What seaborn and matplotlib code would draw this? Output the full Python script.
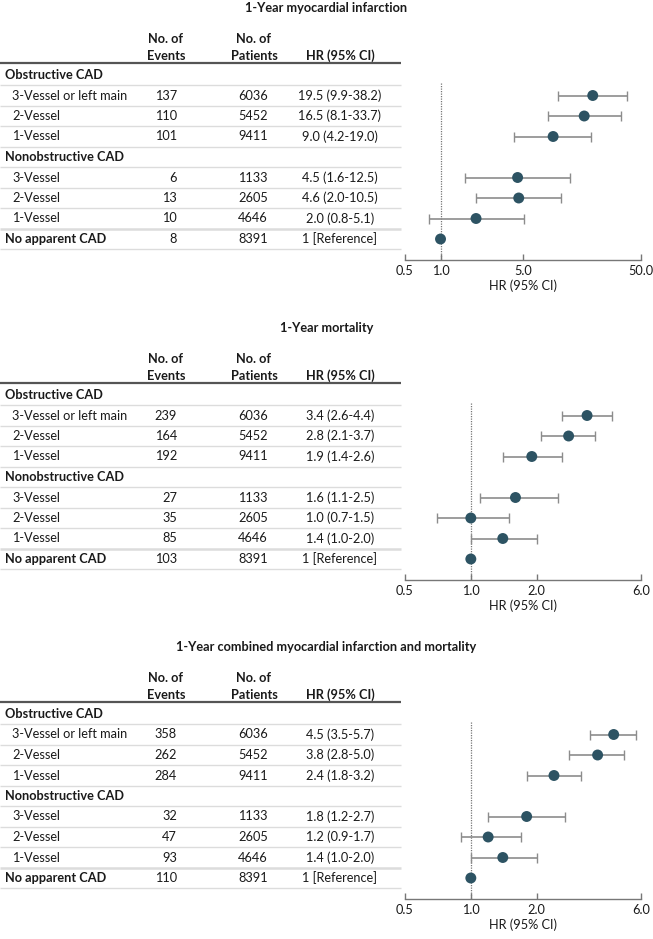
import numpy as np
import pandas as pd
import matplotlib
matplotlib.use("Agg")
import matplotlib.pyplot as plt
import seaborn as sns

sns.set_theme(style="white")
plt.rcParams['font.family'] = ['Lato', 'DejaVu Sans']

# ---- data ----
row_labels = ["Obstructive CAD", "3-Vessel or left main", "2-Vessel", "1-Vessel",
              "Nonobstructive CAD", "3-Vessel", "2-Vessel", "1-Vessel", "No apparent CAD"]
row_is_group = [True, False, False, False, True, False, False, False, True]
data_rows = [1, 2, 3, 5, 6, 7, 8]   # rows that carry numbers

patients = [6036, 5452, 9411, 1133, 2605, 4646, 8391]

mi_events = [137, 110, 101, 6, 13, 10, 8]
mi_hr = [19.5, 16.5, 9.0, 4.5, 4.6, 2.0, 1.0]
mi_lo = [9.9, 8.1, 4.2, 1.6, 2.0, 0.8, 1.0]
mi_hi = [38.2, 33.7, 19.0, 12.5, 10.5, 5.1, 1.0]

mort_events = [239, 164, 192, 27, 35, 85, 103]
mort_hr = [3.4, 2.8, 1.9, 1.6, 1.0, 1.4, 1.0]
mort_lo = [2.6, 2.1, 1.4, 1.1, 0.7, 1.0, 1.0]
mort_hi = [4.4, 3.7, 2.6, 2.5, 1.5, 2.0, 1.0]

comb_events = [358, 262, 284, 32, 47, 93, 110]
comb_hr = [4.5, 3.8, 2.4, 1.8, 1.2, 1.4, 1.0]
comb_lo = [3.5, 2.8, 1.8, 1.2, 0.9, 1.0, 1.0]
comb_hi = [5.7, 5.0, 3.2, 2.7, 1.7, 2.0, 1.0]

titles = ["1-Year myocardial infarction", "1-Year mortality",
          "1-Year combined myocardial infarction and mortality"]
xticks_list = [[0.5, 1.0, 5.0, 50.0], [0.5, 1.0, 2.0, 6.0], [0.5, 1.0, 2.0, 6.0]]

panels = [
    (mi_events, mi_hr, mi_lo, mi_hi),
    (mort_events, mort_hr, mort_lo, mort_hi),
    (comb_events, comb_hr, comb_lo, comb_hi),
]

# ---- layout (pixels) ----
W, H = 653, 939
fig = plt.figure(figsize=(W / 100, H / 100), dpi=100)
bg = fig.add_axes([0, 0, 1, 1])
bg.set_xlim(0, W)
bg.set_ylim(H, 0)
bg.axis("off")

dot_color = "#2d5363"
ci_color = "#8c8c8c"
txt = "#1a1a1a"
fs = 9.2
offsets = [0, 320, 639]
row0 = 75
step = 20.5

for p, (events, hr, lo, hi) in enumerate(panels):
    o = offsets[p]
    ry = lambda r: o + row0 + r * step

    bg.text(W / 2, o + 8, titles[p], ha="center", va="center", fontsize=fs,
            fontweight="bold", color=txt)
    bg.text(166, o + 39, "No. of", ha="center", va="center", fontsize=fs, fontweight="bold", color=txt)
    bg.text(166, o + 56, "Events", ha="center", va="center", fontsize=fs, fontweight="bold", color=txt)
    bg.text(254, o + 39, "No. of", ha="center", va="center", fontsize=fs, fontweight="bold", color=txt)
    bg.text(254, o + 56, "Patients", ha="center", va="center", fontsize=fs, fontweight="bold", color=txt)
    bg.text(340, o + 56, "HR (95% CI)", ha="center", va="center", fontsize=fs, fontweight="bold", color=txt)
    bg.plot([0, 401], [o + 62.5, o + 62.5], color="#555555", lw=1.6, solid_capstyle="butt")

    for r, (lab, grp) in enumerate(zip(row_labels, row_is_group)):
        bg.text(5 if grp else 12, ry(r), lab, ha="left", va="center", fontsize=fs,
                fontweight="bold" if grp else "normal", color=txt)
        lw = 1.8 if r == 7 else 1.0
        bg.plot([0, 401], [ry(r + 0.5), ry(r + 0.5)], color="#dcdcdc", lw=lw, solid_capstyle="butt")

    for k, r in enumerate(data_rows):
        bg.text(177, ry(r), str(events[k]), ha="right", va="center", fontsize=fs, color=txt)
        bg.text(268, ry(r), str(patients[k]), ha="right", va="center", fontsize=fs, color=txt)
        if r == 8:
            s = "1 [Reference]"
        else:
            s = f"{hr[k]:.1f} ({lo[k]:.1f}-{hi[k]:.1f})"
        bg.text(340, ry(r), s, ha="center", va="center", fontsize=fs, color=txt)

    # forest axes
    top_px = ry(-0.5)
    bot_px = ry(9)
    ax = fig.add_axes([405 / W, 1 - bot_px / H, (641 - 405) / W, (bot_px - top_px) / H])
    ax.patch.set_alpha(0)
    df = pd.DataFrame({"row": data_rows, "hr": hr, "lo": lo, "hi": hi})
    ci = df[df["row"] != 8]
    ax.errorbar(ci["hr"], ci["row"],
                xerr=[ci["hr"] - ci["lo"], ci["hi"] - ci["hr"]],
                fmt="none", ecolor=ci_color, elinewidth=1.2, capsize=3.5, capthick=1.0, zorder=2)
    ax.plot([1, 1], [0.4, 9], color="#777777", lw=0.9, ls=(0, (1, 1)), zorder=1)
    sns.scatterplot(data=df, x="hr", y="row", ax=ax, color=dot_color, s=62,
                    edgecolor="none", zorder=3, legend=False)
    ticks = xticks_list[p]
    ax.set_xscale("log")
    ax.set_xlim(ticks[0], ticks[-1])
    ax.set_ylim(9, -0.5)
    ax.set_xticks(ticks)
    ax.set_xticklabels([f"{t:.1f}" for t in ticks])
    ax.minorticks_off()
    ax.set_yticks([])
    ax.set_ylabel("")
    ax.set_xlabel("HR (95% CI)", fontsize=fs, color=txt, labelpad=2)
    for side in ["top", "right", "left"]:
        ax.spines[side].set_visible(False)
    ax.spines["bottom"].set_color("#777777")
    ax.spines["bottom"].set_linewidth(1.0)
    ax.tick_params(axis="x", direction="in", length=4, width=1.0, color="#777777",
                   labelsize=fs, labelcolor=txt, pad=4, bottom=True)

fig.savefig("out.png", dpi=100)
